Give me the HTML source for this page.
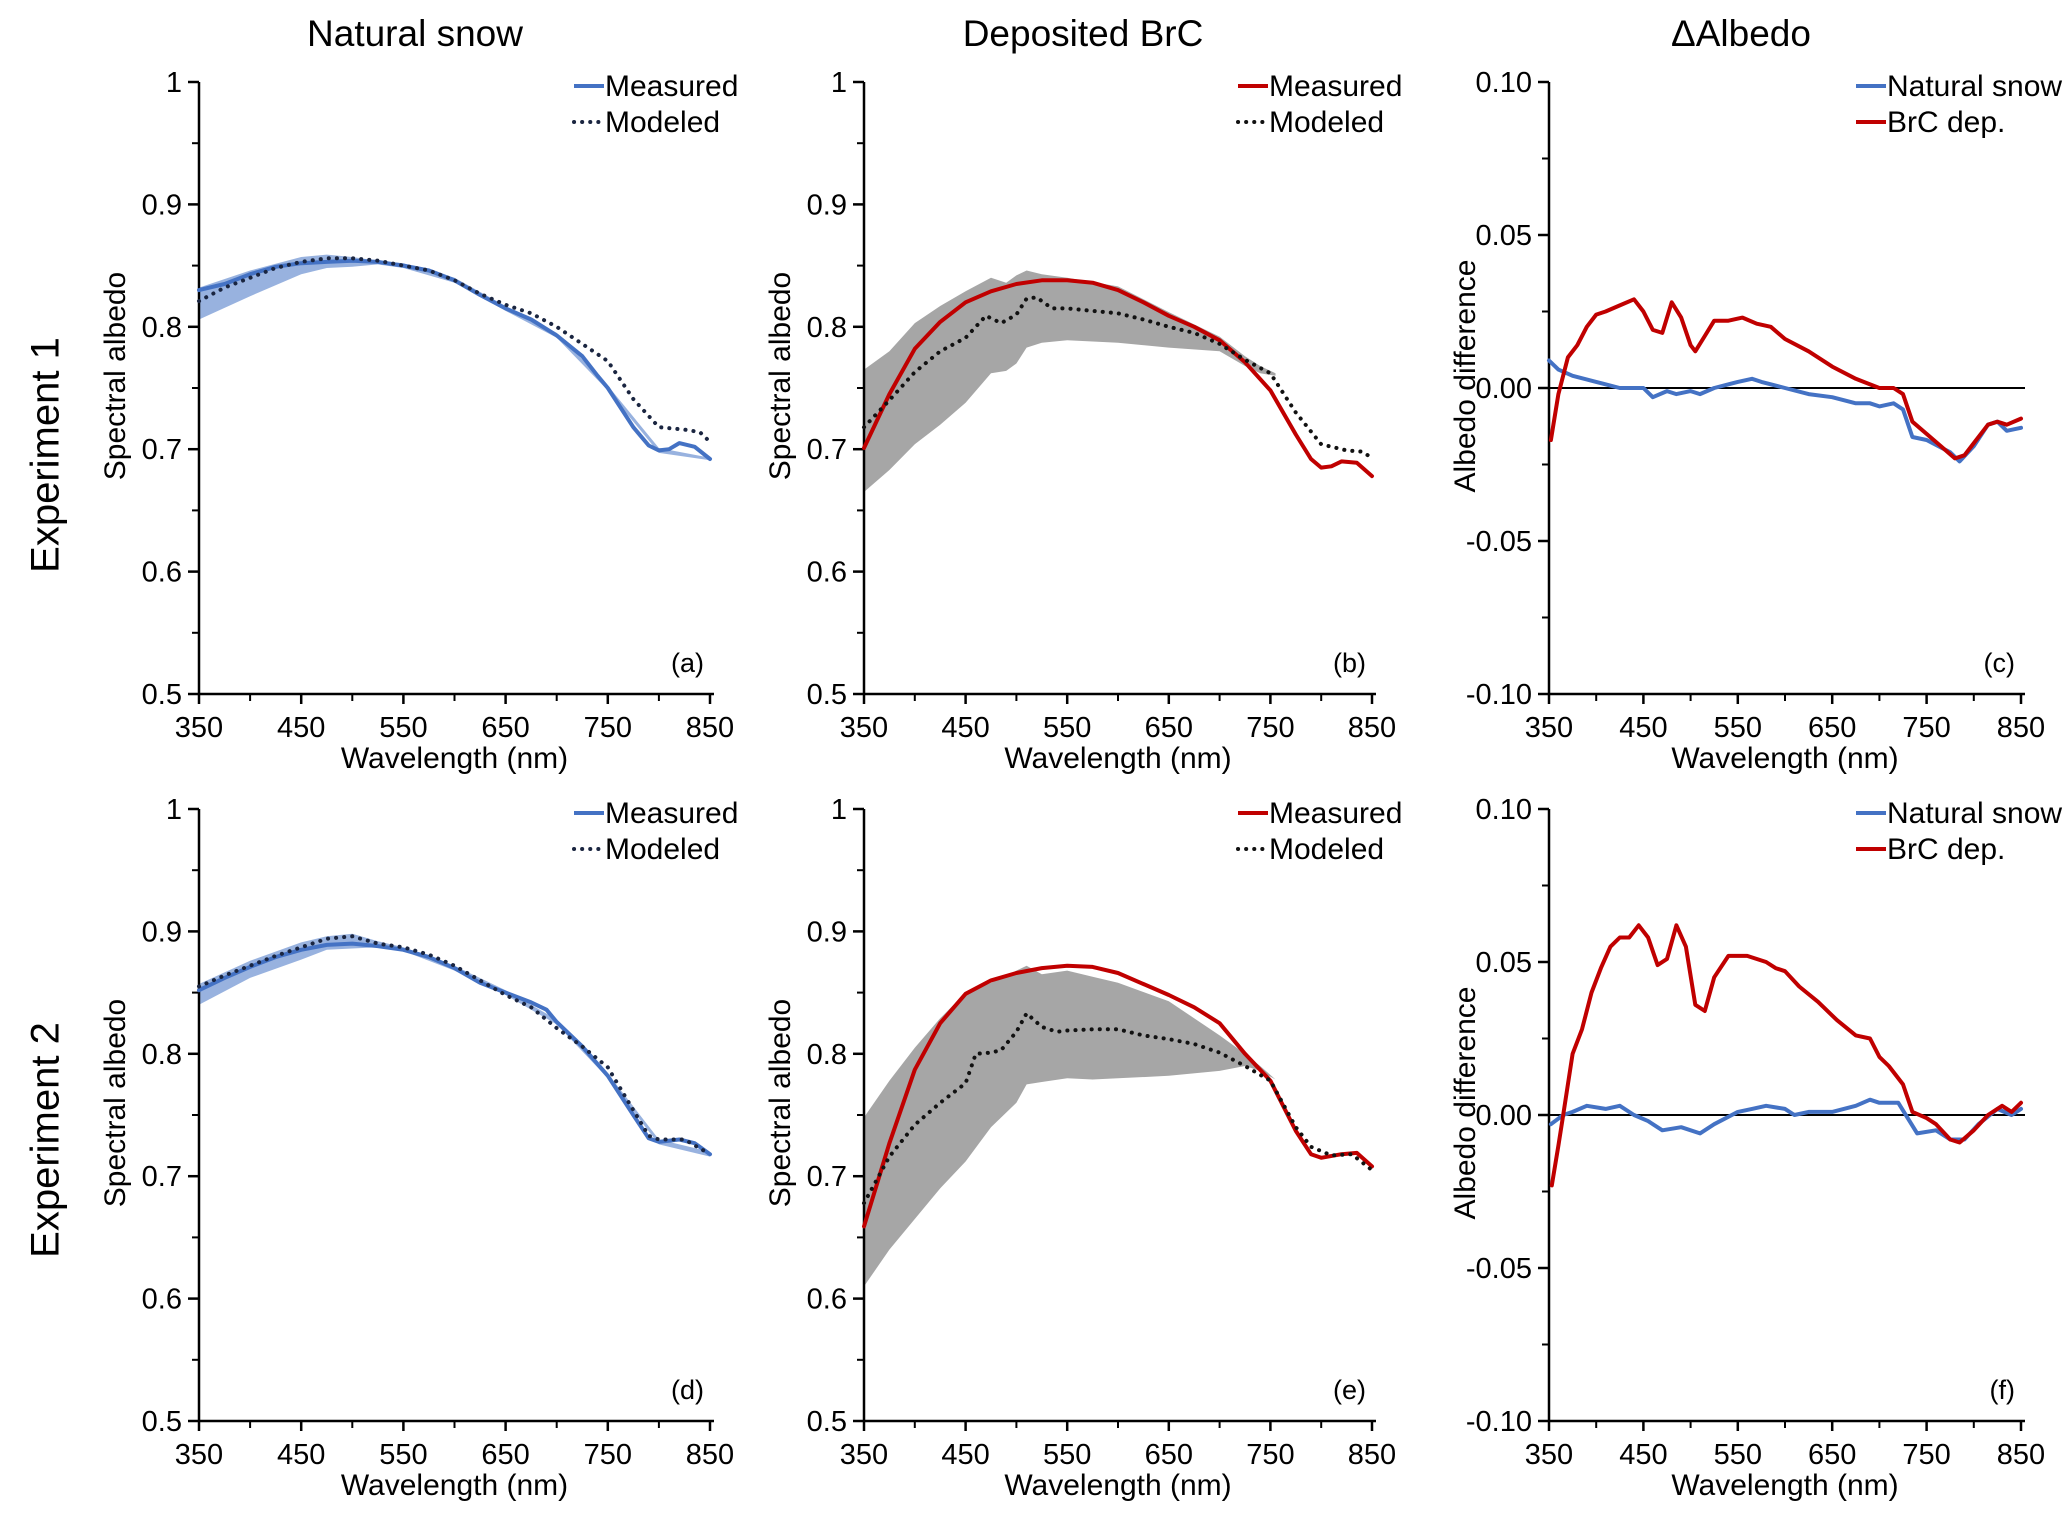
<!DOCTYPE html>
<html><head><meta charset="utf-8">
<style>
html,body{margin:0;padding:0;background:#fff;}
svg{display:block;font-family:"Liberation Sans",Arial,sans-serif;}
</style></head>
<body>
<svg id="fig" width="2067" height="1519" viewBox="0 0 2067 1519" xmlns="http://www.w3.org/2000/svg">
<text x="415" y="46" font-size="37" text-anchor="middle">Natural snow</text>
<text x="1083" y="46" font-size="37" text-anchor="middle">Deposited BrC</text>
<text x="1741" y="46" font-size="37" text-anchor="middle">ΔAlbedo</text>
<text transform="translate(48,455) rotate(-90)" font-size="40" text-anchor="middle" dominant-baseline="middle">Experiment 1</text>
<text transform="translate(48,1140) rotate(-90)" font-size="40" text-anchor="middle" dominant-baseline="middle">Experiment 2</text>
</svg>
<script>
// ---------- data (wavelength nm / albedo) ----------
const aMeasX=[350,375,400,425,450,475,500,525,550,575,600,625,650,675,700,725,740,750,775,790,800,810,820,835,850];
const aMeasY=[.830,.835,.843,.849,.852,.853,.854,.853,.850,.846,.838,.826,.815,.806,.793,.776,.760,.750,.718,.703,.699,.700,.705,.702,.692];
const aModX=[350,375,400,425,450,475,500,525,550,575,600,625,650,675,700,725,750,775,800,825,840,850];
const aModY=[.821,.832,.840,.848,.853,.856,.856,.854,.850,.846,.838,.827,.818,.811,.800,.786,.772,.741,.718,.716,.714,.706];
const aBandX=[350,400,450,475,500,525,550,600,650,700,750,800,850];
const aBandHi=[.832,.846,.857,.859,.857,.854,.852,.840,.817,.795,.752,.701,.693];
const aBandLo=[.806,.825,.843,.848,.849,.851,.848,.836,.813,.791,.748,.697,.691];

const bMeasX=[350,375,400,425,450,475,500,525,550,575,600,625,650,675,700,725,750,775,790,800,810,820,835,850];
const bMeasY=[.701,.745,.782,.804,.820,.829,.835,.838,.838,.836,.830,.820,.809,.800,.789,.771,.748,.712,.692,.685,.686,.690,.689,.678];
const bModX=[350,375,400,425,450,470,485,500,510,520,535,550,575,600,625,650,675,700,725,750,775,800,825,840,850];
const bModY=[.718,.740,.763,.780,.791,.809,.803,.810,.823,.824,.815,.815,.813,.811,.806,.800,.795,.786,.773,.762,.730,.704,.699,.698,.693];
const bBandX=[350,375,400,425,450,475,490,500,510,525,550,600,650,700,725,740,755];
const bBandHi=[.765,.780,.803,.817,.829,.840,.836,.842,.846,.843,.840,.833,.812,.792,.776,.768,.762];
const bBandLo=[.665,.683,.704,.720,.738,.762,.764,.770,.783,.787,.789,.787,.783,.780,.768,.762,.760];

const cSnowX=[350,360,375,400,425,450,460,475,485,500,510,525,550,565,575,600,625,650,675,690,700,715,725,735,750,775,785,800,815,825,835,850];
const cSnowY=[.009,.006,.004,.002,.000,.000,-.003,-.001,-.002,-.001,-.002,.000,.002,.003,.002,.000,-.002,-.003,-.005,-.005,-.006,-.005,-.007,-.016,-.017,-.021,-.024,-.019,-.012,-.011,-.014,-.013];
const cBrcX=[352,360,370,380,390,400,410,425,440,450,460,470,480,490,500,505,515,525,540,555,570,585,600,625,650,675,700,715,725,735,750,765,780,790,800,815,825,835,850];
const cBrcY=[-.017,-.002,.010,.014,.020,.024,.025,.027,.029,.025,.019,.018,.028,.023,.014,.012,.017,.022,.022,.023,.021,.020,.016,.012,.007,.003,.000,.000,-.002,-.011,-.015,-.019,-.023,-.022,-.018,-.012,-.011,-.012,-.010];

const dMeasX=[350,375,400,425,450,475,500,525,550,575,600,625,650,675,690,700,725,750,775,790,800,820,835,850];
const dMeasY=[.852,.862,.871,.879,.885,.889,.890,.888,.885,.879,.870,.858,.850,.842,.836,.826,.806,.782,.750,.731,.728,.730,.727,.718];
const dModX=[350,375,400,425,450,475,500,525,550,575,600,625,650,675,700,725,750,775,790,800,825,850];
const dModY=[.855,.864,.872,.880,.887,.894,.896,.890,.887,.881,.872,.860,.848,.838,.821,.806,.789,.754,.733,.730,.730,.718];
const dBandX=[350,400,450,475,500,525,550,600,650,700,750,800,850];
const dBandHi=[.857,.876,.891,.896,.898,.892,.887,.872,.852,.828,.784,.730,.720];
const dBandLo=[.840,.862,.877,.885,.886,.887,.884,.868,.848,.824,.780,.726,.716];

const eMeasX=[350,375,400,425,450,475,500,525,550,575,600,625,650,675,700,725,750,775,790,800,820,835,850];
const eMeasY=[.659,.727,.787,.825,.849,.860,.866,.870,.872,.871,.866,.857,.848,.838,.825,.800,.778,.737,.718,.715,.718,.719,.708];
const eModX=[350,375,400,425,450,460,475,485,500,510,525,540,550,575,600,625,650,675,700,725,750,775,790,810,830,850];
const eModY=[.678,.716,.742,.760,.776,.800,.801,.803,.818,.833,.822,.818,.819,.820,.820,.815,.812,.808,.801,.790,.778,.740,.724,.717,.718,.705];
const eBandX=[350,375,400,425,450,475,500,510,525,550,575,600,650,700,725,740,755];
const eBandHi=[.748,.778,.805,.829,.850,.858,.868,.872,.865,.868,.863,.858,.843,.815,.800,.790,.779];
const eBandLo=[.610,.640,.665,.690,.712,.740,.760,.775,.777,.780,.779,.780,.782,.786,.790,.786,.779];

const fSnowX=[352,365,375,390,410,425,440,455,470,490,510,525,550,565,580,600,610,625,650,675,690,700,720,740,760,775,790,805,825,840,850];
const fSnowY=[-.003,.000,.001,.003,.002,.003,.000,-.002,-.005,-.004,-.006,-.003,.001,.002,.003,.002,.000,.001,.001,.003,.005,.004,.004,-.006,-.005,-.008,-.008,-.003,.002,.000,.002];
const fBrcX=[353,360,365,375,385,395,405,415,425,435,445,455,465,475,485,495,505,515,525,540,560,580,590,600,615,635,655,675,690,700,710,725,735,750,760,775,785,800,815,830,840,850];
const fBrcY=[-.023,-.010,.000,.020,.028,.040,.048,.055,.058,.058,.062,.058,.049,.051,.062,.055,.036,.034,.045,.052,.052,.050,.048,.047,.042,.037,.031,.026,.025,.019,.016,.010,.001,-.001,-.003,-.008,-.009,-.005,.000,.003,.001,.004];

const xTicks=[350,450,550,650,750,850];
const albTicks=[1,0.9,0.8,0.7,0.6,0.5];
const albTickLabels=["1","0.9","0.8","0.7","0.6","0.5"];
const difTicks=[0.10,0.05,0,-0.05,-0.10];
const difTickLabels=["0.10","0.05","0.00","-0.05","-0.10"];

// ---------- drawing ----------
const NS="http://www.w3.org/2000/svg";
const svg=document.getElementById('fig');
const BLUE="#4472c4", RED="#c00000", DOT="#1a2540";
function mk(tag,attrs,parent){const e=document.createElementNS(NS,tag);for(const k in attrs)e.setAttribute(k,attrs[k]);(parent||svg).appendChild(e);return e;}

function panel(id,x0,x1,y0,y1,ymin,ymax,ticks,tickLabels,ylabel,letter,cfg){
  const g=mk('g',{});
  
  
  const sx=v=>x0+(v-350)/(850-350)*(x1-x0);
  const sy=v=>y1-(v-ymin)/(ymax-ymin)*(y1-y0);
  const pts=(xs,ys)=>xs.map((v,i)=>sx(v).toFixed(1)+','+sy(ys[i]).toFixed(1)).join(' ');
  if(cfg.band){
    const [bx,hi,lo,col]=cfg.band;
    const p=mk('polygon',{points:pts(bx,hi)+' '+pts(bx.slice().reverse(),lo.slice().reverse()),fill:col,stroke:'none'},g);
    
    
  }
  if(cfg.zero){
    const z=mk('line',{x1:x0,x2:x1+4,y1:sy(0),y2:sy(0),stroke:'#000','stroke-width':2},g);
    
    
  }
  const ya=mk('line',{x1:x0,x2:x0,y1:y0,y2:y1,stroke:'#000','stroke-width':2.5},g);
  
  
  const xa=mk('line',{x1:x0,x2:x1+4,y1:y1,y2:y1,stroke:'#000','stroke-width':2.5},g);
  
  
  ticks.forEach((t,i)=>{
    mk('line',{x1:x0-11,x2:x0,y1:sy(t),y2:sy(t),stroke:'#000','stroke-width':2.5},g);
    if(i<ticks.length-1){const m=(t+ticks[i+1])/2;mk('line',{x1:x0-7,x2:x0,y1:sy(m),y2:sy(m),stroke:'#000','stroke-width':2},g);}
    const tl=mk('text',{x:x0-17,y:sy(t)+10,'font-size':29,'text-anchor':'end'},g);
    tl.textContent=tickLabels[i];
    
    
  });
  xTicks.forEach((t,i)=>{
    mk('line',{x1:sx(t),x2:sx(t),y1:y1,y2:y1+10,stroke:'#000','stroke-width':2.5},g);
    if(i<xTicks.length-1){const m=t+50;mk('line',{x1:sx(m),x2:sx(m),y1:y1,y2:y1+7,stroke:'#000','stroke-width':2},g);}
    const tl=mk('text',{x:sx(t),y:y1+43,'font-size':29,'text-anchor':'middle'},g);
    tl.textContent=String(t);
    
    
  });
  const xl=mk('text',{x:(x0+x1)/2,y:y1+74,'font-size':30,'text-anchor':'middle'},g);
  xl.textContent='Wavelength (nm)';
  
  
  const yl=mk('text',{transform:`translate(${x0-82},${(y0+y1)/2-12}) rotate(-90)`,'font-size':30,'text-anchor':'middle','dominant-baseline':'middle'},g);
  yl.textContent=ylabel;
  
  
  const lt=mk('text',{x:x1-6,y:y1-22,'font-size':27,'text-anchor':'end'},g);
  lt.textContent='('+letter+')';
  
  
  cfg.series.forEach((s,k)=>{
    const attrs={points:pts(s.x,s.y),fill:'none',stroke:s.color,'stroke-width':4,'stroke-linejoin':'round','stroke-linecap':'round'};
    if(s.dot){attrs['stroke-dasharray']='0.1 8';}
    const l=mk('polyline',attrs,g);
    
    
    const ly=y0+4+k*36;
    const lx=cfg.legX;
    const ll=mk('line',{x1:lx,x2:lx+30,y1:ly,y2:ly,stroke:s.color,'stroke-width':4,'stroke-linecap':s.dot?'round':'butt'},g);
    if(s.dot){ll.setAttribute('stroke-dasharray','0.1 8');}
    
    
    const lt2=mk('text',{x:lx+31,y:ly+10,'font-size':30},g);
    lt2.textContent=s.label;
    
    
  });
}
const R1=[82,694], R2=[809,1421];
const CA=[199,710], CB=[864,1372], CC=[1549,2021];
panel('a',CA[0],CA[1],R1[0],R1[1],0.5,1,albTicks,albTickLabels,'Spectral albedo','a',{band:[aBandX,aBandHi,aBandLo,'rgba(68,114,196,0.55)'],legX:574,series:[{name:'measured',label:'Measured',x:aMeasX,y:aMeasY,color:BLUE},{name:'modeled',label:'Modeled',x:aModX,y:aModY,color:DOT,dot:true}]});
panel('b',CB[0],CB[1],R1[0],R1[1],0.5,1,albTicks,albTickLabels,'Spectral albedo','b',{band:[bBandX,bBandHi,bBandLo,'#a6a6a6'],legX:1238,series:[{name:'measured',label:'Measured',x:bMeasX,y:bMeasY,color:RED},{name:'modeled',label:'Modeled',x:bModX,y:bModY,color:'#111',dot:true}]});
panel('c',CC[0],CC[1],R1[0],R1[1],-0.1,0.1,difTicks,difTickLabels,'Albedo difference','c',{zero:true,legX:1856,series:[{name:'natural-snow',label:'Natural snow',x:cSnowX,y:cSnowY,color:BLUE},{name:'brc-dep',label:'BrC dep.',x:cBrcX,y:cBrcY,color:RED}]});
panel('d',CA[0],CA[1],R2[0],R2[1],0.5,1,albTicks,albTickLabels,'Spectral albedo','d',{band:[dBandX,dBandHi,dBandLo,'rgba(68,114,196,0.55)'],legX:574,series:[{name:'measured',label:'Measured',x:dMeasX,y:dMeasY,color:BLUE},{name:'modeled',label:'Modeled',x:dModX,y:dModY,color:DOT,dot:true}]});
panel('e',CB[0],CB[1],R2[0],R2[1],0.5,1,albTicks,albTickLabels,'Spectral albedo','e',{band:[eBandX,eBandHi,eBandLo,'#a6a6a6'],legX:1238,series:[{name:'measured',label:'Measured',x:eMeasX,y:eMeasY,color:RED},{name:'modeled',label:'Modeled',x:eModX,y:eModY,color:'#111',dot:true}]});
panel('f',CC[0],CC[1],R2[0],R2[1],-0.1,0.1,difTicks,difTickLabels,'Albedo difference','f',{zero:true,legX:1856,series:[{name:'natural-snow',label:'Natural snow',x:fSnowX,y:fSnowY,color:BLUE},{name:'brc-dep',label:'BrC dep.',x:fBrcX,y:fBrcY,color:RED}]});
</script>
</body></html>
